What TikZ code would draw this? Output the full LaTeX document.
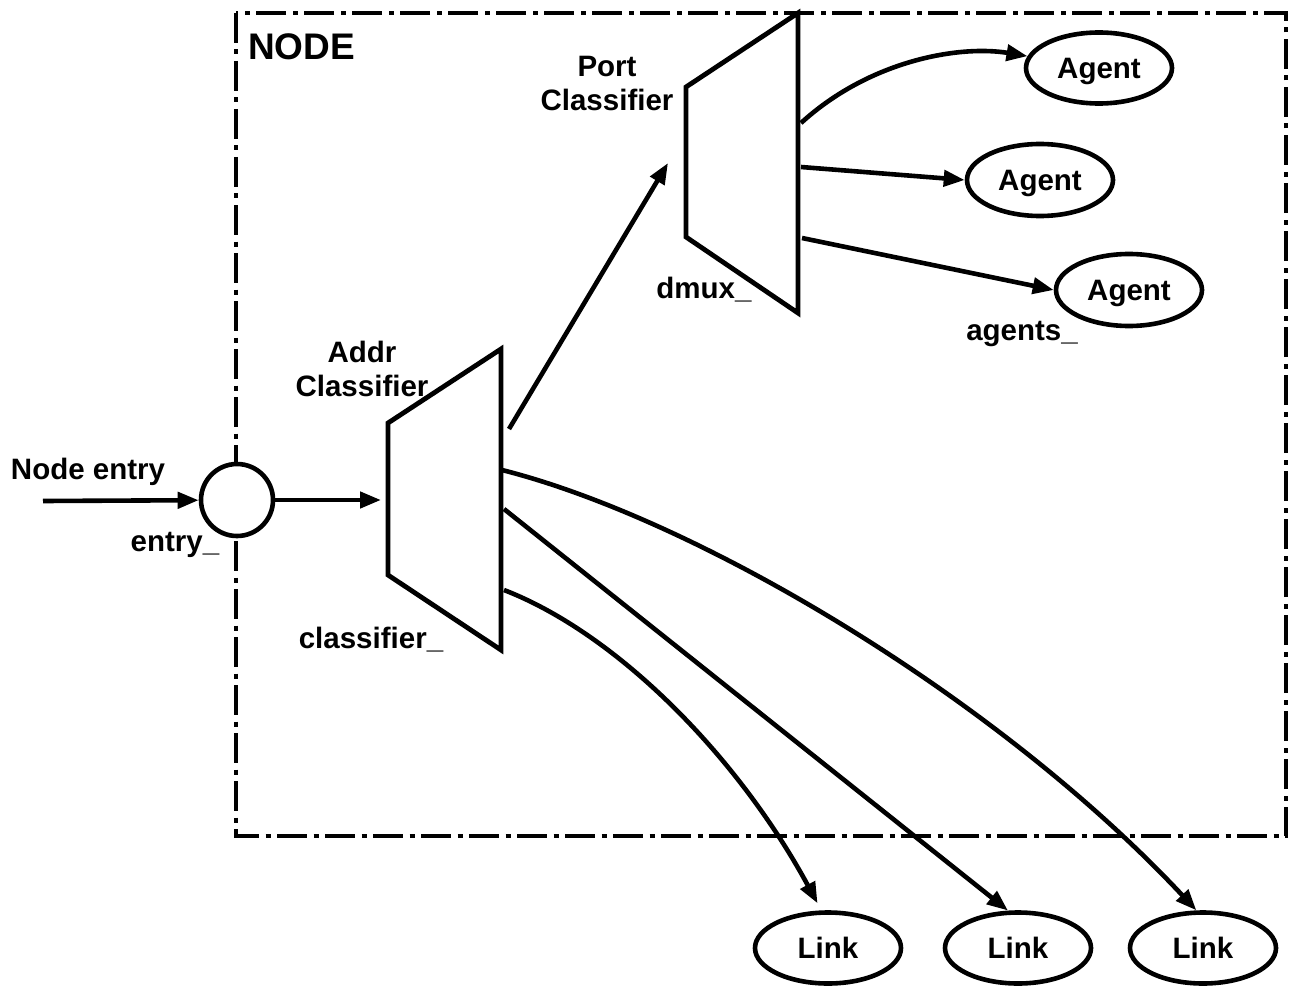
\documentclass[tikz,border=0pt]{standalone}
\usepackage{fontspec}
\setmainfont{Liberation Sans}
\usetikzlibrary{shapes.geometric,arrows.meta}
\begin{document}
\begin{tikzpicture}[x=1pt,y=-1pt,
  lbl/.style={font=\fontsize{29.5}{34}\selectfont\bfseries, inner sep=0pt, text height=21pt, text depth=0pt},
  oval/.style={lbl, draw, ellipse, line width=4.6pt, minimum width=146pt, minimum height=71pt, fill=white},
  conn/.style={line width=4.6pt, -{Triangle[length=21pt,width=16pt]}},
  trap/.style={line width=4.8pt, line join=miter},
  border/.style={line width=4.6pt, dash pattern=on 30pt off 6.5pt on 5pt off 6.5pt}
]
\useasboundingbox (0,0) rectangle (1292,987);

% node boundary
\draw[border] (236,13) rectangle (1286,836);

% classifiers
\draw[trap] (388,423) -- (501,349) -- (501,650) -- (388,575) -- cycle;
\draw[trap] (686,87) -- (798,13) -- (798,313) -- (686,237) -- cycle;

% entry
\node[draw, circle, line width=4.6pt, minimum size=72pt, inner sep=0pt, fill=white] (entry) at (237,500) {};

% agents and links
\node[oval] (agent1) at (1099,68) {Agent};
\node[oval, minimum height=72pt] (agent2) at (1040,180) {Agent};
\node[oval, minimum height=72pt] (agent3) at (1129,290) {Agent};
\node[oval] (link1) at (828,948) {Link};
\node[oval] (link2) at (1018,948) {Link};
\node[oval] (link3) at (1203,948) {Link};

% labels
\node[lbl, font=\fontsize{37}{44}\selectfont\bfseries, text height=26.5pt, anchor=west] (nodelbl) at (248,46) {NODE};
\node[lbl] (entrytxt) at (88,469) {Node entry};
\node[lbl] (entryname) at (175,541) {entry\_};
\node[lbl] (addr1) at (362,352) {Addr};
\node[lbl] (addr2) at (362,386) {Classifier};
\node[lbl] (classname) at (371,638) {classifier\_};
\node[lbl] (port1) at (607,66) {Port};
\node[lbl] (port2) at (607,100) {Classifier};
\node[lbl] (dmuxname) at (704,288) {dmux\_};
\node[lbl] (agentsname) at (1022,330) {agents\_};

% connection points
\coordinate (src) at (43,501);
\coordinate (addrin) at (381,500);
\coordinate (a0) at (509,429);
\coordinate (pin) at (668,163);
\coordinate (a1) at (502,470);
\coordinate (a2) at (504,509);
\coordinate (a3) at (504,590);
\coordinate (p1) at (801,123);
\coordinate (p2) at (801,167);
\coordinate (p3) at (802,238);

% connectors
\draw[conn] (src) -- (entry);
\draw[conn] (entry) -- (addrin);
\draw[conn] (a0) -- (pin);
\draw[conn] (a1) .. controls (700,520) and (1000,700) .. (link3.100);
\draw[conn] (a2) -- (link2.105);
\draw[conn, shorten >=8pt] (a3) .. controls (620,635) and (740,760) .. (link1.100);
\draw[conn] (p1) .. controls (870,60) and (960,45) .. (agent1);
\draw[conn] (p2) -- (agent2.west);
\draw[conn] (p3) -- (agent3.west);
\end{tikzpicture}
\end{document}
